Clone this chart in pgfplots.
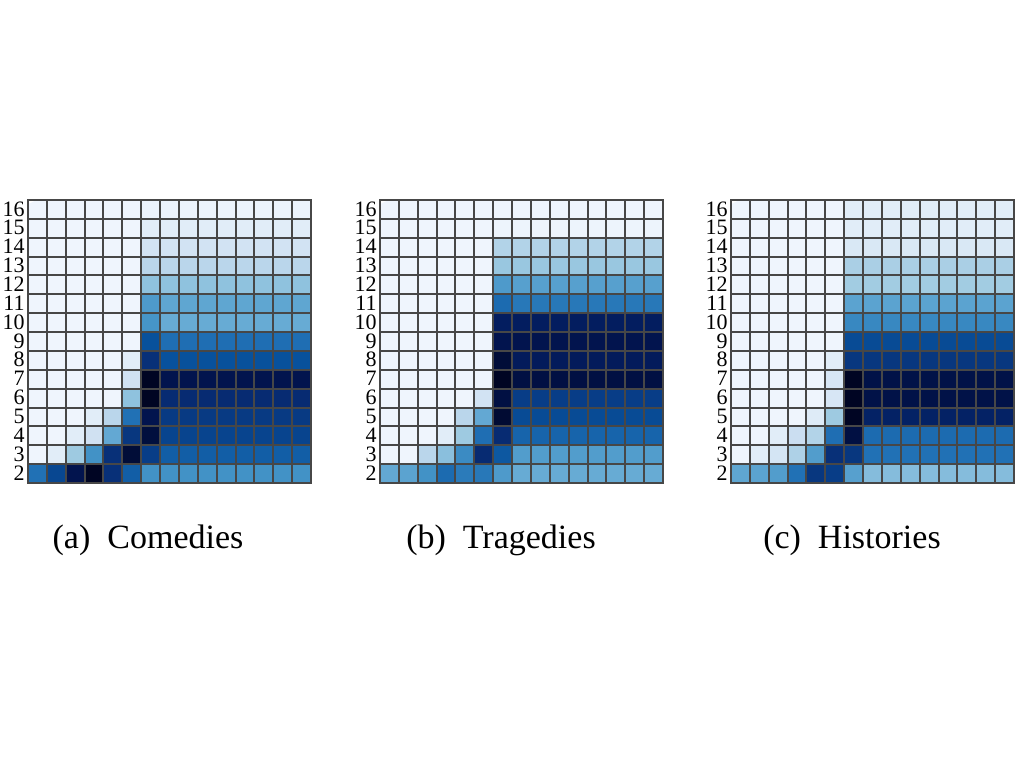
\documentclass[border=0pt]{standalone}
\usepackage{pgfplots}
\pgfplotsset{compat=1.18}
\usepackage{pgfplotstable}
\usepackage{fontspec}
\setmainfont{Liberation Serif}

% rows from y=2 (bottom) up to y=16 (top), 15 columns each
\pgfplotstableread[row sep=\\]{
c\\
6\\7.3\\9.2\\10\\8\\6.6\\5\\5\\5\\5\\5\\5\\5\\5\\5\\
0\\0.8\\3\\5\\8\\9.6\\7.6\\6.6\\6.6\\6.6\\6.6\\6.6\\6.6\\6.6\\6.6\\
0\\0\\0.8\\1.6\\4.2\\7.8\\9.5\\7.4\\7.4\\7.4\\7.4\\7.4\\7.4\\7.4\\7.4\\
0\\0\\0\\0.8\\2.3\\6\\9.2\\7.7\\7.7\\7.7\\7.7\\7.7\\7.7\\7.7\\7.7\\
0\\0\\0\\0\\0\\3.3\\10\\8.2\\8.2\\8.2\\8.2\\8.2\\8.2\\8.2\\8.2\\
0\\0\\0\\0\\0\\1.6\\10\\9.2\\9.2\\9.2\\9.2\\9.2\\9.2\\9.2\\9.2\\
0\\0\\0\\0\\0\\0.8\\8\\7\\7\\7\\7\\7\\7\\7\\7\\
0\\0\\0\\0\\0\\0\\7\\6.1\\6.1\\6.1\\6.1\\6.1\\6.1\\6.1\\6.1\\
0\\0\\0\\0\\0\\0\\4.9\\4.1\\4.1\\4.1\\4.1\\4.1\\4.1\\4.1\\4.1\\
0\\0\\0\\0\\0\\0\\4.7\\4.3\\4.3\\4.3\\4.3\\4.3\\4.3\\4.3\\4.3\\
0\\0\\0\\0\\0\\0\\3.3\\3.3\\3.3\\3.3\\3.3\\3.3\\3.3\\3.3\\3.3\\
0\\0\\0\\0\\0\\0\\2.3\\2.3\\2.3\\2.3\\2.3\\2.3\\2.3\\2.3\\2.3\\
0\\0\\0\\0\\0\\0\\1.5\\1.5\\1.5\\1.5\\1.5\\1.5\\1.5\\1.5\\1.5\\
0\\0\\0\\0\\0\\0\\0.8\\0.8\\0.8\\0.8\\0.8\\0.8\\0.8\\0.8\\0.8\\
0\\0\\0\\0\\0\\0\\0.2\\0.2\\0.2\\0.2\\0.2\\0.2\\0.2\\0.2\\0.2\\
}\comedies

\pgfplotstableread[row sep=\\]{
c\\
4.2\\4.4\\5\\6.2\\5.7\\5.8\\4.7\\4.1\\4.1\\4.1\\4.1\\4.1\\4.1\\4.1\\4.1\\
0\\0\\2.3\\3.4\\5.2\\8.2\\6.8\\4.6\\4.6\\4.6\\4.6\\4.6\\4.6\\4.6\\4.6\\
0\\0\\0\\0.8\\3\\6.1\\8.2\\6.4\\6.4\\6.4\\6.4\\6.4\\6.4\\6.4\\6.4\\
0\\0\\0\\0\\2.3\\4.2\\9.7\\7.2\\7.2\\7.2\\7.2\\7.2\\7.2\\7.2\\7.2\\
0\\0\\0\\0\\0\\1.5\\9.4\\7.6\\7.6\\7.6\\7.6\\7.6\\7.6\\7.6\\7.6\\
0\\0\\0\\0\\0\\0\\10\\9.4\\9.4\\9.4\\9.4\\9.4\\9.4\\9.4\\9.4\\
0\\0\\0\\0\\0\\0\\9.6\\8.9\\8.9\\8.9\\8.9\\8.9\\8.9\\8.9\\8.9\\
0\\0\\0\\0\\0\\0\\9.2\\9.2\\9.2\\9.2\\9.2\\9.2\\9.2\\9.2\\9.2\\
0\\0\\0\\0\\0\\0\\8.8\\8.8\\8.8\\8.8\\8.8\\8.8\\8.8\\8.8\\8.8\\
0\\0\\0\\0\\0\\0\\6.2\\5.8\\5.8\\5.8\\5.8\\5.8\\5.8\\5.8\\5.8\\
0\\0\\0\\0\\0\\0\\4.7\\4.5\\4.5\\4.5\\4.5\\4.5\\4.5\\4.5\\4.5\\
0\\0\\0\\0\\0\\0\\3.1\\3.1\\3.1\\3.1\\3.1\\3.1\\3.1\\3.1\\3.1\\
0\\0\\0\\0\\0\\0\\2.5\\2.5\\2.5\\2.5\\2.5\\2.5\\2.5\\2.5\\2.5\\
0\\0\\0\\0\\0\\0\\0.1\\0.1\\0.1\\0.1\\0.1\\0.1\\0.1\\0.1\\0.1\\
0\\0\\0\\0\\0\\0\\0\\0\\0\\0\\0\\0\\0\\0\\0\\
}\tragedies

\pgfplotstableread[row sep=\\]{
c\\
4.3\\4.4\\4.6\\6\\7.8\\7.6\\4.5\\3.5\\3.5\\3.5\\3.5\\3.5\\3.5\\3.5\\3.5\\
0\\0.8\\1.4\\2.6\\4.6\\8\\7.8\\6\\6\\6\\6\\6\\6\\6\\6\\
0\\0\\0.8\\1.8\\2.5\\6.1\\9.4\\6.2\\6.2\\6.2\\6.2\\6.2\\6.2\\6.2\\6.2\\
0\\0\\0\\0\\1\\3\\10\\8.6\\8.6\\8.6\\8.6\\8.6\\8.6\\8.6\\8.6\\
0\\0\\0\\0\\0\\1.3\\10\\9.3\\9.3\\9.3\\9.3\\9.3\\9.3\\9.3\\9.3\\
0\\0\\0\\0\\0\\1.3\\10\\9.3\\9.3\\9.3\\9.3\\9.3\\9.3\\9.3\\9.3\\
0\\0\\0\\0\\0\\0.8\\7.8\\7.8\\7.8\\7.8\\7.8\\7.8\\7.8\\7.8\\7.8\\
0\\0\\0\\0\\0\\0\\7.2\\7.2\\7.2\\7.2\\7.2\\7.2\\7.2\\7.2\\7.2\\
0\\0\\0\\0\\0\\0\\5.3\\5.3\\5.3\\5.3\\5.3\\5.3\\5.3\\5.3\\5.3\\
0\\0\\0\\0\\0\\0\\4.4\\4.4\\4.4\\4.4\\4.4\\4.4\\4.4\\4.4\\4.4\\
0\\0\\0\\0\\0\\0\\2.9\\2.9\\2.9\\2.9\\2.9\\2.9\\2.9\\2.9\\2.9\\
0\\0\\0\\0\\0\\0\\2.7\\2.7\\2.7\\2.7\\2.7\\2.7\\2.7\\2.7\\2.7\\
0\\0\\0\\0\\0\\0\\1.2\\1.2\\1.2\\1.2\\1.2\\1.2\\1.2\\1.2\\1.2\\
0\\0\\0\\0\\0\\0\\0.8\\0.8\\0.8\\0.8\\0.8\\0.8\\0.8\\0.8\\0.8\\
0\\0\\0\\0\\0\\0\\0.8\\0.8\\0.8\\0.8\\0.8\\0.8\\0.8\\0.8\\0.8\\
}\histories

\pgfplotsset{
  heat/.style={
    scale only axis, width=141.5pt, height=141.5pt,
    xmin=-0.5, xmax=14.5, ymin=1.5, ymax=16.5,
    xtick={-0.5,0.5,...,14.5}, xticklabels=\empty,
    ytick={2,...,16},
    minor ytick={1.5,2.5,...,16.5},
    major tick length=0pt, minor tick length=0pt,
    xmajorgrids=true, ymajorgrids=false, yminorgrids=true,
    major grid style={draw=black!72, line width=1pt},
    minor grid style={draw=black!72, line width=1pt},
    axis line style={draw=black!72, line width=1pt},
    axis on top,
    colormap={cm}{rgb255(0)=(239,245,253) rgb255(1)=(222,235,247) rgb255(2)=(198,219,239) rgb255(3)=(158,202,225) rgb255(4)=(107,174,214) rgb255(5)=(66,146,198) rgb255(6)=(33,113,181) rgb255(7)=(8,81,156) rgb255(8)=(8,48,120) rgb255(9)=(2,24,88) rgb255(10)=(0,5,35)},
    point meta min=0, point meta max=10,
    /pgf/number format/assume math mode=true,
    yticklabel style={font=\fontsize{11}{11}\selectfont, inner xsep=1.5pt, inner ysep=0pt, text height=0.66em, text depth=0pt},
  },
  cells/.style={matrix plot*, mesh/cols=15, point meta=explicit},
}

\begin{document}
\begin{tikzpicture}
\path[use as bounding box] (0,0) rectangle (512pt,384pt);
\begin{axis}[heat, at={(14pt,142.5pt)}, anchor=south west]
\addplot[cells] table[x index=0, y index=0, meta index=0, x expr={mod(\coordindex,15)}, y expr={2+floor(\coordindex/15)}] {\comedies};
\end{axis}
\begin{axis}[heat, at={(190pt,142.5pt)}, anchor=south west]
\addplot[cells] table[x index=0, y index=0, meta index=0, x expr={mod(\coordindex,15)}, y expr={2+floor(\coordindex/15)}] {\tragedies};
\end{axis}
\begin{axis}[heat, at={(365.5pt,142.5pt)}, anchor=south west]
\addplot[cells] table[x index=0, y index=0, meta index=0, x expr={mod(\coordindex,15)}, y expr={2+floor(\coordindex/15)}] {\histories};
\end{axis}
\node[font=\fontsize{17}{17}\selectfont, inner sep=0pt] at (74pt,114pt) {(a)\ \ Comedies};
\node[font=\fontsize{17}{17}\selectfont, inner sep=0pt] at (250.5pt,114pt) {(b)\ \ Tragedies};
\node[font=\fontsize{17}{17}\selectfont, inner sep=0pt] at (426pt,114pt) {(c)\ \ Histories};
\end{tikzpicture}
\end{document}
